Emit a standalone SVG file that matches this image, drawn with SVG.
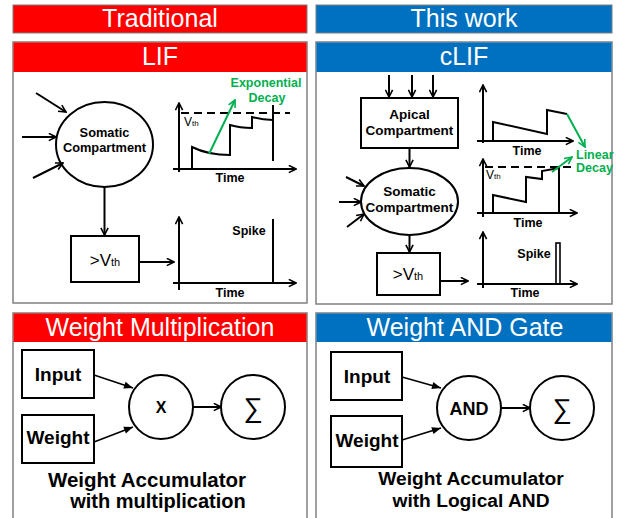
<svg xmlns="http://www.w3.org/2000/svg" width="618" height="518" viewBox="0 0 618 518">
<style>
text{font-family:"Liberation Sans",Arial,sans-serif}
.bar{stroke:#7f7f7f;stroke-width:1}
.red{fill:#ff0000}
.blue{fill:#0070c0}
.ttl{fill:#fff;font-size:25px;text-anchor:middle}
.panel{fill:#fff;stroke:#808080;stroke-width:1.5}
.ln{fill:none;stroke:#000;stroke-width:2}
.ar{fill:none;stroke:#000;stroke-width:2;marker-end:url(#op)}
.af{fill:none;stroke:#000;stroke-width:1.6;marker-end:url(#fl)}
.gr{fill:none;stroke:#00b050;stroke-width:2;marker-end:url(#gop)}
.b{font-weight:bold;text-anchor:middle}
.lab{font-size:12.5px;font-weight:bold;text-anchor:middle}
.gl{font-size:12.5px;font-weight:bold;fill:#00b050}
.dash{stroke:#000;stroke-width:2;stroke-dasharray:8,5}
</style>
<defs>
<marker id="op" viewBox="0 0 10 10" refX="9" refY="5" markerWidth="9" markerHeight="9" markerUnits="userSpaceOnUse" orient="auto"><path d="M1,1 L9,5 L1,9" fill="none" stroke="#000" stroke-width="1.8"/></marker>
<marker id="gop" viewBox="0 0 10 10" refX="9" refY="5" markerWidth="9" markerHeight="9" markerUnits="userSpaceOnUse" orient="auto"><path d="M1,1 L9,5 L1,9" fill="none" stroke="#00b050" stroke-width="1.8"/></marker>
<marker id="fl" viewBox="0 0 10 10" refX="10" refY="5" markerWidth="11" markerHeight="9" markerUnits="userSpaceOnUse" orient="auto"><path d="M0,1 L10,5 L0,9 Z" fill="#000"/></marker>
</defs>
<rect width="618" height="518" fill="#fff"/>

<!-- Title bars -->
<g id="traditional">
<rect class="bar red" x="13" y="5" width="294" height="28"/>
<text class="ttl" x="160" y="27">Traditional</text>
</g>
<g id="thiswork">
<rect class="bar blue" x="316" y="5" width="296" height="28"/>
<text class="ttl" x="464" y="27">This work</text>
</g>

<!-- LIF panel -->
<g id="lif-panel">
<rect class="panel" x="13" y="42" width="294" height="261"/>
<rect class="red" x="13.5" y="42.5" width="293" height="29.5"/>
<text class="ttl" x="160" y="65">LIF</text>
</g>
<g id="lif-soma">
<ellipse class="ln" cx="104.5" cy="144.5" rx="48.5" ry="42.5"/>
<text class="b" font-size="12.8" x="104.5" y="137">Somatic</text>
<text class="b" font-size="12.8" x="104.5" y="152">Compartment</text>
</g>
<g id="lif-thr">
<rect class="ln" x="71" y="236" width="68" height="46"/>
<text x="105" y="266" text-anchor="middle"><tspan font-size="17">&gt;V</tspan><tspan font-size="11">th</tspan></text>
</g>
<g id="lif-graph1">
<line class="ar" x1="179" y1="172" x2="179" y2="103"/>
<line class="ar" x1="173" y1="169" x2="296" y2="169"/>
<line class="dash" x1="181" y1="113" x2="290" y2="113"/>
<text x="184" y="126"><tspan font-size="12">V</tspan><tspan font-size="8">th</tspan></text>
<path class="ln" d="M192,169 V147 Q208,155 230,155 V125 Q240,128 252,128 V117 Q262,120 273,120"/>
<line class="ln" x1="273" y1="105" x2="273" y2="161"/>
<line class="gr" x1="209" y1="154" x2="235" y2="100"/>
<text class="gl" x="266" y="87" text-anchor="middle">Exponential</text>
<text class="gl" x="267" y="102" text-anchor="middle">Decay</text>
<text class="lab" x="230" y="182">Time</text>
</g>
<g id="lif-graph2">
<line class="ar" x1="179" y1="290" x2="179" y2="217"/>
<line class="ar" x1="173" y1="283" x2="296" y2="283"/>
<line class="ln" x1="273" y1="219" x2="273" y2="283"/>
<text class="lab" x="249" y="235">Spike</text>
<text class="lab" x="230" y="297">Time</text>
</g>

<!-- cLIF panel -->
<g id="clif-panel">
<rect class="panel" x="316" y="42" width="296" height="262"/>
<rect class="blue" x="316.5" y="42.5" width="295" height="29.5"/>
<text class="ttl" x="464" y="65">cLIF</text>
</g>
<g id="clif-apical">
<rect class="ln" x="361" y="98" width="97" height="50"/>
<text class="b" font-size="13.5" x="409.5" y="119">Apical</text>
<text class="b" font-size="13.5" x="409.5" y="135">Compartment</text>
</g>
<g id="clif-soma">
<ellipse class="ln" cx="409.5" cy="201.5" rx="48.5" ry="33.5"/>
<text class="b" font-size="13.5" x="409.5" y="196">Somatic</text>
<text class="b" font-size="13.5" x="409.5" y="212">Compartment</text>
</g>
<g id="clif-thr">
<rect class="ln" x="377" y="253" width="63" height="42"/>
<text x="408" y="280" text-anchor="middle"><tspan font-size="17">&gt;V</tspan><tspan font-size="11">th</tspan></text>
</g>
<g id="clif-graph1">
<line class="ar" x1="483" y1="143" x2="483" y2="85"/>
<line class="ar" x1="477" y1="141" x2="573" y2="141"/>
<path class="ln" d="M493,141 V122 L547,134 V110 L567,114"/>
<line class="gr" x1="567" y1="114" x2="585" y2="147"/>
<text class="lab" x="527" y="155">Time</text>
</g>
<g id="clif-graph2">
<line class="ar" x1="483" y1="217" x2="483" y2="159"/>
<line class="ar" x1="477" y1="213" x2="577" y2="213"/>
<line class="dash" x1="485" y1="167" x2="571" y2="167"/>
<text x="486" y="179"><tspan font-size="12">V</tspan><tspan font-size="8">th</tspan></text>
<path class="ln" d="M493,213 V195 L526,202 V177 L542,179 V171 L559,168"/>
<line class="ln" x1="559" y1="166" x2="559" y2="213"/>
<line class="gr" x1="552" y1="172" x2="572" y2="157"/>
<text class="gl" x="576" y="159">Linear</text>
<text class="gl" x="576" y="172">Decay</text>
<text class="lab" x="528" y="227">Time</text>
</g>
<g id="clif-graph3">
<line class="ar" x1="483" y1="288" x2="483" y2="232"/>
<line class="ar" x1="477" y1="284" x2="577" y2="284"/>
<rect x="556" y="243" width="4" height="41" fill="none" stroke="#000" stroke-width="1.6"/>
<text class="lab" x="534" y="258">Spike</text>
<text class="lab" x="525" y="297">Time</text>
</g>

<!-- Weight multiplication panel -->
<g id="wm-panel">
<rect class="panel" x="13" y="313" width="294" height="220"/>
<rect class="red" x="13.5" y="313.5" width="293" height="28.5"/>
<text class="ttl" x="160" y="336">Weight Multiplication</text>
<text class="b" font-size="20.5" x="147" y="487">Weight Accumulator</text>
<text class="b" font-size="20" x="158" y="508">with multiplication</text>
</g>
<g id="wm-input">
<rect class="ln" x="22" y="350" width="72" height="48" stroke-width="1.8"/>
<text class="b" font-size="19" x="58" y="381">Input</text>
</g>
<g id="wm-weight">
<rect class="ln" x="22" y="415" width="72" height="48" stroke-width="1.8"/>
<text class="b" font-size="19" x="58" y="444">Weight</text>
</g>
<g id="wm-mult">
<circle class="ln" cx="161" cy="407" r="32" stroke-width="1.8"/>
<text class="b" font-size="16" x="161" y="413">X</text>
</g>
<g id="wm-sum">
<circle class="ln" cx="253" cy="407" r="32" stroke-width="1.8"/>
<text font-size="27" x="253" y="417" text-anchor="middle">∑</text>
</g>

<!-- Weight AND panel -->
<g id="wa-panel">
<rect class="panel" x="316" y="313" width="296" height="220"/>
<rect class="blue" x="316.5" y="313.5" width="295" height="28.5"/>
<text class="ttl" x="465" y="336">Weight AND Gate</text>
<text class="b" font-size="19.2" x="471" y="485">Weight Accumulator</text>
<text class="b" font-size="19.2" x="471" y="507">with Logical AND</text>
</g>
<g id="wa-input">
<rect class="ln" x="331" y="352" width="71" height="48" stroke-width="1.8"/>
<text class="b" font-size="19" x="367" y="383">Input</text>
</g>
<g id="wa-weight">
<rect class="ln" x="331" y="416" width="71" height="51" stroke-width="1.8"/>
<text class="b" font-size="19" x="367" y="447">Weight</text>
</g>
<g id="wa-and">
<circle class="ln" cx="469" cy="408" r="32" stroke-width="1.8"/>
<text class="b" font-size="18" x="469" y="415">AND</text>
</g>
<g id="wa-sum">
<circle class="ln" cx="562" cy="408" r="32" stroke-width="1.8"/>
<text font-size="27" x="562" y="418" text-anchor="middle">∑</text>
</g>

<!-- Connectors -->
<g id="connectors">
<line class="ar" x1="36" y1="93" x2="66" y2="112"/>
<line class="ar" x1="22" y1="137" x2="56" y2="137"/>
<line class="ar" x1="33" y1="178" x2="63" y2="163"/>
<line class="ar" x1="104.5" y1="187" x2="104.5" y2="235"/>
<line class="ar" x1="139" y1="262" x2="174" y2="262"/>

<line class="ar" x1="389" y1="75" x2="389" y2="97"/>
<line class="ar" x1="412" y1="75" x2="412" y2="97"/>
<line class="ar" x1="433" y1="75" x2="433" y2="97"/>
<line class="ar" x1="409.5" y1="148" x2="409.5" y2="167"/>
<line class="ar" x1="346" y1="177" x2="364" y2="186"/>
<line class="ar" x1="339" y1="202" x2="361" y2="202"/>
<line class="ar" x1="347" y1="227" x2="364" y2="214"/>
<line class="ar" x1="409.5" y1="235" x2="409.5" y2="252"/>
<line class="ar" x1="440" y1="281" x2="468" y2="281"/>

<line class="af" x1="94" y1="375" x2="133" y2="388"/>
<line class="af" x1="94" y1="442" x2="133" y2="427"/>
<line class="ar" x1="193" y1="407" x2="221" y2="407" stroke-width="1.6"/>

<line class="af" x1="402" y1="377" x2="441" y2="388"/>
<line class="af" x1="402" y1="440" x2="441" y2="428"/>
<line class="ar" x1="501" y1="408" x2="530" y2="408" stroke-width="1.6"/>
</g>
</svg>
